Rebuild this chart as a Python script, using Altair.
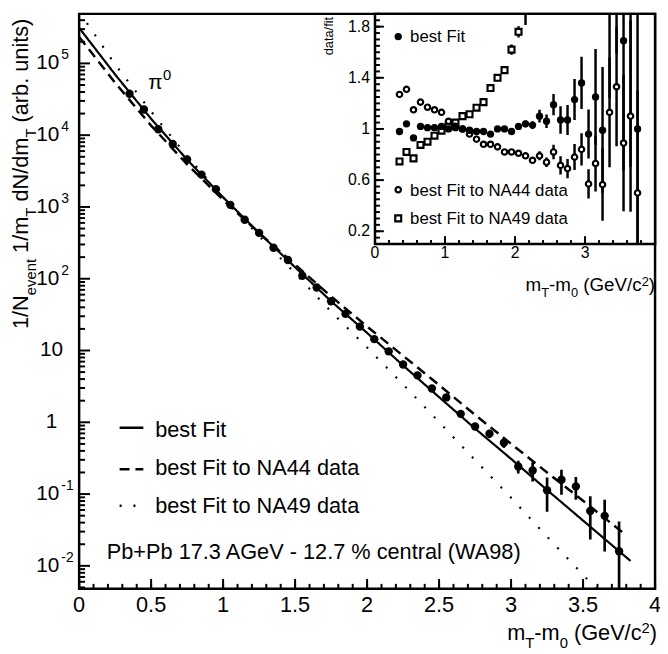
import altair as alt
import pandas as pd
import numpy as np

FONT = "Liberation Sans"
W, H = 583, 582
YMIN, YMAX = 10 ** -2.32, 10 ** 5.69
# inset placement inside the plot area (pixels)
IX0, IX1 = 299.5, 583
IY0, IY1 = 233, 0

# ---------------- main spectrum (pi0, WA98) ----------------
mt = [0.35, 0.45, 0.55, 0.65, 0.75, 0.85, 0.95, 1.05, 1.15, 1.25, 1.35, 1.45,
      1.55, 1.65, 1.75, 1.85, 1.95, 2.05, 2.15, 2.25, 2.35, 2.45, 2.55, 2.65,
      2.75, 2.85, 2.95, 3.05, 3.15, 3.25, 3.35, 3.45, 3.55, 3.65, 3.75]
spectrum = [37800, 22800, 12100, 7520, 4590, 2820, 1770, 1070, 664, 435, 270, 182,
            110, 75.5, 48.6, 32.4, 21.5, 14.4, 9.73, 6.38, 4.50, 2.95, 2.22, 1.31,
            0.875, 0.695, 0.518, 0.242, 0.213, 0.113, 0.158, 0.128, 0.0582, 0.0497, 0.0160]
rel_err = [0.01, 0.01, 0.01, 0.01, 0.01, 0.01, 0.01, 0.01, 0.01, 0.01, 0.01, 0.01,
           0.01, 0.01, 0.015, 0.02, 0.02, 0.02, 0.025, 0.03, 0.045, 0.05, 0.07, 0.10,
           0.11, 0.13, 0.15, 0.20, 0.30, 0.50, 0.38, 0.35, 0.60, 0.68, 1.60]

# fit curves
best_x = [0.0, 0.25, 0.5, 0.75, 1.0, 1.25, 1.5, 1.75, 2.0, 2.25, 2.5, 2.75, 3.0, 3.25, 3.5, 3.75, 3.83]
best_fit = [3.13e5, 7.0e4, 1.69e4, 4550, 1365, 434.5, 144.5, 48.6, 17.6, 6.19, 2.24,
            0.818, 0.309, 0.114, 0.0427, 0.0160, 0.0117]
na44_x = [0.0, 0.25, 0.5, 0.75, 1.0, 1.25, 1.5, 1.75, 2.0, 2.25, 2.5, 2.75, 3.0, 3.25, 3.5, 3.75, 3.8]
na44_fit = [2.34e5, 5.37e4, 1.36e4, 3930, 1253, 434.5, 157, 56.6, 21.6, 8.45, 3.30,
            1.27, 0.501, 0.200, 0.0805, 0.0320, 0.0266]
na49_x = [0.0, 0.25, 0.5, 0.75, 1.0, 1.25, 1.5, 1.75, 2.0, 2.25, 2.5, 2.75, 3.0, 3.25, 3.5, 3.75]
na49_fit = [5.25e5, 9.66e4, 2.14e4, 5100, 1365, 395, 119, 34.8, 11.0, 3.37, 1.007,
            0.297, 0.0887, 0.0255, 0.0075, 0.00224]

# ---------------- inset: data / fit ----------------
ratio_best = [0.98, 1.04, 0.93, 1.02, 1.01, 1.01, 1.02, 1.00, 1.01, 1.00, 0.99, 0.98,
              0.98, 0.96, 1.00, 1.00, 0.98, 1.02, 1.04, 1.03, 1.10, 1.06, 1.19, 1.07,
              1.07, 1.23, 1.36, 0.96, 1.25, 0.99, 2.00, 2.45, 1.69, 2.20, 1.00]
ratio_na44 = [1.27, 1.31, 1.15, 1.21, 1.17, 1.15, 1.13, 1.06, 1.02, 1.00, 0.96, 0.92,
              0.88, 0.88, 0.86, 0.82, 0.82, 0.81, 0.79, 0.755, 0.79, 0.74, 0.82, 0.715,
              0.69, 0.78, 0.84, 0.57, 0.73, 0.565, 1.13, 1.33, 0.89, 1.10, 0.50]
mt_na49 = [0.35, 0.45, 0.55, 0.65, 0.75, 0.85, 0.95, 1.05, 1.15, 1.25, 1.35, 1.45,
           1.55, 1.65, 1.75, 1.85, 1.95, 2.05, 2.15]
ratio_na49 = [0.746, 0.82, 0.77, 0.875, 0.90, 0.947, 0.986, 1.02, 1.05, 1.10, 1.115,
              1.166, 1.21, 1.32, 1.40, 1.46, 1.62, 1.76, 1.97]
rel_err_na49 = [0.01, 0.01, 0.01, 0.01, 0.01, 0.01, 0.01, 0.01, 0.01, 0.01, 0.01, 0.01,
                0.01, 0.01, 0.015, 0.02, 0.025, 0.025, 0.08]

# ---------------- axis ticks & labels ----------------
x_major = [0, 0.5, 1, 1.5, 2, 2.5, 3, 3.5, 4]
x_labels = ["0", "0.5", "1", "1.5", "2", "2.5", "3", "3.5", "4"]
x_minor = [round(0.1 * i, 2) for i in range(41)]
y_major = [1e5, 1e4, 1e3, 1e2, 1e1, 1, 1e-1, 1e-2]
y_base = ["10", "10", "10", "10", "10", "1", "10", "10"]
y_exp = ["5", "4", "3", "2", "", "", "-1", "-2"]
y_minor = [k * 10.0 ** n for n in range(-3, 6) for k in range(2, 10)
           if YMIN < k * 10.0 ** n < YMAX]
ix_major = [0, 1, 2, 3]
ix_labels = ["0", "1", "2", "3"]
ix_minor = [round(0.2 * i, 2) for i in range(21)]
iy_major = [0.2, 0.6, 1.0, 1.4, 1.8]
iy_labels = ["0.2", "0.6", "1", "1.4", "1.8"]
iy_minor = [round(0.1 + 0.05 * i, 3) for i in range(37)]

# ---------------- scales ----------------
sx = alt.Scale(domain=[0, 4], range=[0, W], nice=False, zero=False)
sy = alt.Scale(type="log", domain=[YMIN, YMAX], range=[H, 0], nice=False)
isx = alt.Scale(domain=[0, 4], range=[IX0, IX1], nice=False, zero=False)
isy = alt.Scale(domain=[0.1, 1.9], range=[IY0, IY1], nice=False, zero=False)


def X(f, s):
    return alt.X(f, type="quantitative", scale=s, axis=None)


def Y(f, s):
    return alt.Y(f, type="quantitative", scale=s, axis=None)


CW = {' ': 278, '(': 333, ')': 333, '-': 333, '/': 278, '.': 278, '+': 584, '%': 889,
      'a': 556, 'b': 556, 'c': 500, 'd': 556, 'e': 556, 'f': 278, 'i': 222, 'l': 222,
      'm': 833, 'n': 556, 'r': 333, 's': 500, 't': 278, 'u': 556, 'v': 500,
      'A': 667, 'F': 611, 'G': 778, 'N': 722, 'P': 667, 'T': 611, 'V': 667, 'W': 944}


def tw(s, size):
    return sum(CW.get(c, 556) for c in s) * size / 1000.0


def txt(t, x, y, size, align="left", baseline="alphabetic", angle=0):
    return alt.Chart(pd.DataFrame({"t": [t]})).mark_text(
        font=FONT, fontSize=size, align=align, baseline=baseline, angle=angle,
        color="black").encode(x=alt.value(x), y=alt.value(y), text="t:N")


def rich_h(pieces, x, y, anchor="start"):
    total = sum(tw(t, s) for t, s, _ in pieces)
    pos = x if anchor == "start" else x - total
    out = []
    for t, s, sh in pieces:
        lead = len(t) - len(t.lstrip(" "))
        p = pos + tw(" " * lead, s)
        out.append(txt(t.strip(" "), p, y + sh, s))
        pos += tw(t, s)
    return out


def rich_v(pieces, x, y):
    pos = y
    out = []
    for t, s, sh in pieces:
        lead = len(t) - len(t.lstrip(" "))
        p = pos - tw(" " * lead, s)
        out.append(txt(t.strip(" "), x + sh, p, s, angle=270))
        pos -= tw(t, s)
    return out


# ---------------- main layers ----------------
err = np.array(rel_err) * np.array(spectrum)
df_main = pd.DataFrame({
    "x": mt, "y": spectrum,
    "lo": np.maximum(np.array(spectrum) - err, YMIN * 0.5),
    "hi": np.array(spectrum) + err,
})

main_layers = []
# ticks
main_layers.append(alt.Chart(pd.DataFrame({"v": y_major})).mark_rule(
    color="black", strokeWidth=2).encode(y=Y("v", sy), x=alt.value(0), x2=alt.value(11)))
main_layers.append(alt.Chart(pd.DataFrame({"v": y_minor})).mark_rule(
    color="black", strokeWidth=2).encode(y=Y("v", sy), x=alt.value(0), x2=alt.value(6)))
main_layers.append(alt.Chart(pd.DataFrame({"v": x_major})).mark_rule(
    color="black", strokeWidth=2).encode(x=X("v", sx), y=alt.value(H), y2=alt.value(H - 10)))
main_layers.append(alt.Chart(pd.DataFrame({"v": x_minor})).mark_rule(
    color="black", strokeWidth=2).encode(x=X("v", sx), y=alt.value(H), y2=alt.value(H - 5)))

# fit lines
for fx, fy, dash, sw in [(na49_x, na49_fit, [2, 12], 2.2),
                         (na44_x, na44_fit, [10, 6], 2.5),
                         (best_x, best_fit, [1, 0], 2.2)]:
    main_layers.append(alt.Chart(pd.DataFrame({"x": fx, "y": fy})).mark_line(
        color="black", strokeWidth=sw, strokeDash=dash, clip=True).encode(
        x=X("x", sx), y=Y("y", sy)))

# data
main_layers.append(alt.Chart(df_main).mark_rule(color="black", strokeWidth=2.7, clip=True).encode(
    x=X("x", sx), y=Y("lo", sy), y2="hi:Q"))
main_layers.append(alt.Chart(df_main).mark_circle(color="black", opacity=1, size=72, clip=True).encode(
    x=X("x", sx), y=Y("y", sy)))

# tick labels
main_layers.append(alt.Chart(pd.DataFrame({"v": x_major, "t": x_labels})).mark_text(
    font=FONT, fontSize=22, align="center", baseline="alphabetic", color="black").encode(
    x=X("v", sx), y=alt.value(H + 23), text="t:N"))
df_yl = pd.DataFrame({"v": y_major, "b": y_base, "e": y_exp})
df_yl_exp = df_yl[df_yl["e"] != ""]
df_yl_plain = df_yl[df_yl["e"] == ""]
main_layers.append(alt.Chart(df_yl_exp).mark_text(
    font=FONT, fontSize=21, align="right", baseline="middle", color="black").encode(
    y=Y("v", sy), x=alt.value(-20), text="b:N"))
main_layers.append(alt.Chart(df_yl_exp).mark_text(
    font=FONT, fontSize=14, align="left", baseline="middle", dy=-8, color="black").encode(
    y=Y("v", sy), x=alt.value(-18), text="e:N"))
main_layers.append(alt.Chart(df_yl_plain).mark_text(
    font=FONT, fontSize=21, align="center", baseline="middle", color="black").encode(
    y=Y("v", sy), x=alt.value(-28), text="b:N"))

# axis titles
main_layers += rich_h([("m", 22, 0), ("T", 15, 8), ("-m", 22, 0), ("0", 15, 8),
                       (" (GeV/c", 22, 0), ("2", 15, -7), (")", 22, 0)], 585, 634, anchor="end")
main_layers += rich_v([("1/N", 22, 0), ("event", 15, 8), (" 1/m", 22, 0), ("T", 15, 8),
                       (" dN/dm", 22, 0), ("T", 15, 8), (" (arb. units)", 22, 0)], -52, 319)

# annotations
main_layers.append(txt("π", 70, 76, 21))
main_layers.append(txt("0", 85, 67, 15))
main_layers.append(txt("Pb+Pb 17.3 AGeV - 12.7 % central (WA98)", 28, 552, 22))

# legend
for yy, dash, label, ty in [(419, [1, 0], "best Fit", 428),
                            (461, [10, 6], "best Fit to NA44 data", 467),
                            (498, [2, 12], "best Fit to NA49 data", 505)]:
    main_layers.append(alt.Chart(pd.DataFrame({"t": [label]})).mark_rule(
        color="black", strokeWidth=2.5, strokeDash=dash).encode(
        x=alt.value(41), x2=alt.value(65), y=alt.value(yy)))
    main_layers.append(txt(label, 77, ty, 22))

main = alt.layer(*main_layers)

# ---------------- inset layers ----------------
inset_layers = []
inset_layers.append(alt.Chart(pd.DataFrame({"x0": [0], "x1": [4], "y0": [0.1], "y1": [1.9]})).mark_rect(
    fill="white", stroke="black", strokeWidth=2.5).encode(
    x=X("x0", isx), x2="x1:Q", y=Y("y0", isy), y2="y1:Q"))
inset_layers.append(alt.Chart(pd.DataFrame({"v": iy_major})).mark_rule(
    color="black", strokeWidth=2).encode(y=Y("v", isy), x=alt.value(IX0), x2=alt.value(IX0 + 9)))
inset_layers.append(alt.Chart(pd.DataFrame({"v": iy_minor})).mark_rule(
    color="black", strokeWidth=2).encode(y=Y("v", isy), x=alt.value(IX0), x2=alt.value(IX0 + 5)))
inset_layers.append(alt.Chart(pd.DataFrame({"v": ix_major})).mark_rule(
    color="black", strokeWidth=2).encode(x=X("v", isx), y=alt.value(IY0), y2=alt.value(IY0 - 8)))
inset_layers.append(alt.Chart(pd.DataFrame({"v": ix_minor})).mark_rule(
    color="black", strokeWidth=2).encode(x=X("v", isx), y=alt.value(IY0), y2=alt.value(IY0 - 4)))


def ratio_df(xs, rs, es):
    r = np.array(rs)
    e = r * np.array(es)
    return pd.DataFrame({"x": xs, "r": rs,
                         "lo": np.clip(r - e, 0.1, 1.9), "hi": np.clip(r + e, 0.1, 1.9)})


df_rb = ratio_df(mt, ratio_best, rel_err)
df_r44 = ratio_df(mt, ratio_na44, rel_err)
df_r49 = ratio_df(mt_na49, ratio_na49, rel_err_na49)

for d in [df_r49, df_r44, df_rb]:
    inset_layers.append(alt.Chart(d).mark_rule(color="black", strokeWidth=2.5, clip=True).encode(
        x=X("x", isx), y=Y("lo", isy), y2="hi:Q"))

inset_layers.append(alt.Chart(df_r49).mark_point(
    shape="square", filled=True, fill="white", stroke="black", strokeWidth=2.2, size=36,
    opacity=1, clip=True).encode(x=X("x", isx), y=Y("r", isy)))
inset_layers.append(alt.Chart(df_r44).mark_point(
    shape="circle", filled=True, fill="white", stroke="black", strokeWidth=2.2, size=30,
    opacity=1, clip=True).encode(x=X("x", isx), y=Y("r", isy)))
inset_layers.append(alt.Chart(df_rb).mark_circle(
    color="black", size=55, opacity=1, clip=True).encode(x=X("x", isx), y=Y("r", isy)))

# inset tick labels
inset_layers.append(alt.Chart(pd.DataFrame({"v": ix_major, "t": ix_labels})).mark_text(
    font=FONT, fontSize=16, align="center", baseline="alphabetic", color="black").encode(
    x=X("v", isx), y=alt.value(IY0 + 14), text="t:N"))
inset_layers.append(alt.Chart(pd.DataFrame({"v": iy_major, "t": iy_labels})).mark_text(
    font=FONT, fontSize=16, align="right", baseline="middle", color="black").encode(
    y=Y("v", isy), x=alt.value(IX0 - 5), text="t:N"))

# inset titles
inset_layers += rich_h([("m", 19, 0), ("T", 13, 6), ("-m", 19, 0), ("0", 13, 6),
                        (" (GeV/c", 19, 0), ("2", 13, -6), (")", 19, 0)], 583, 281, anchor="end")
inset_layers.append(txt("data/fit", 257, 3, 13, align="right", angle=270))

# inset legend
inset_layers.append(alt.Chart(pd.DataFrame({"t": ["best Fit"]})).mark_circle(
    color="black", size=55, opacity=1).encode(x=alt.value(323), y=alt.value(23)))
inset_layers.append(alt.Chart(pd.DataFrame({"t": ["best Fit to NA44 data"]})).mark_point(
    shape="circle", filled=True, fill="white", stroke="black", strokeWidth=2.2, size=30,
    opacity=1).encode(x=alt.value(323), y=alt.value(178)))
inset_layers.append(alt.Chart(pd.DataFrame({"t": ["best Fit to NA49 data"]})).mark_point(
    shape="square", filled=True, fill="white", stroke="black", strokeWidth=2.2, size=36,
    opacity=1).encode(x=alt.value(323), y=alt.value(207)))
inset_layers.append(txt("best Fit", 335, 28, 17))
inset_layers.append(txt("best Fit to NA44 data", 335, 184, 17))
inset_layers.append(txt("best Fit to NA49 data", 335, 213, 17))

inset = alt.layer(*inset_layers)

chart = alt.layer(main, inset).resolve_scale(
    x="independent", y="independent"
).properties(
    width=W, height=H,
    padding={"left": 72, "top": 2, "right": 5, "bottom": 58},
    autosize=alt.AutoSizeParams(type="none"),
    background="white",
).configure_view(stroke="black", strokeWidth=2.5)

chart.save("out.html", embed_options={"renderer": "svg", "actions": False})
